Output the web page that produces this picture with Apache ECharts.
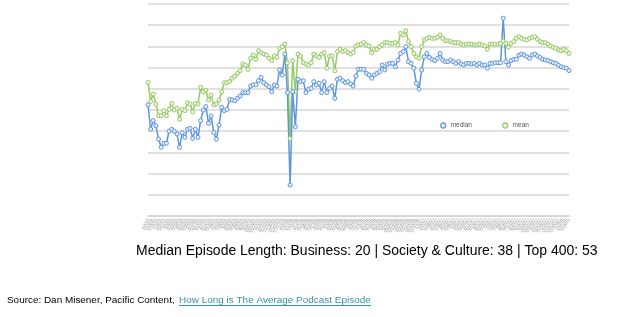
<!DOCTYPE html>
<html><head><meta charset="utf-8">
<script src="https://cdn.jsdelivr.net/npm/echarts@6/dist/echarts.min.js"></script>
<style>html,body{margin:0;padding:0;background:#fff}#c{width:636px;height:317px}</style>
</head><body><div id="c"></div>
<script>
// ---- data (y scale 0-100, gridline every 10) ----
const median = [
52.4, 41, 45, 42.6, 36.3, 32.4, 34.3, 34.3, 40, 40.9, 40, 38.7, 32.4, 39.3, 37.1, 40.9, 41.4, 36.6, 40.9, 37.1, 45, 50, 51.6, 43.7, 47.2, 39.3, 36.2,
42.9, 51.3, 49.7, 50.3, 55, 54.7, 54.4, 55.5, 56.6, 58.2, 58.2, 58.2, 61.3, 61.8, 61.9, 63.8, 65.4, 62.9, 61.8, 61, 58.6, 61.8, 61.3, 68.9, 66.5, 76.4, 58.2,
14.6, 58.6, 42.1, 64.5, 63.4, 63.8, 58.2, 59.8, 60.2, 63.4, 61.8, 62.6, 58.2, 63.4, 58.2, 60.2, 61.3, 55.5, 64.5, 65, 63.8, 62.9, 63.4, 62.3, 61.3, 66,
69.2, 69.2, 69.2, 67.3, 66.5, 65, 66.5, 67.3, 68, 71.2, 68.9, 71.7, 72, 72, 70.4, 73.6, 76.7, 77.6, 79.9, 72.8, 72, 69.7, 62.6, 59.8, 68.9, 75.1, 76.7,
74.8, 73.9, 73.3, 74.4, 76.7, 73.6, 72.8, 72.8, 73.6, 72.8, 72, 72.8, 71.7, 71.2, 72, 72, 71.7, 72, 71.2, 72, 71.2, 71.2, 69.7, 72, 72, 72.3, 72.3,
72.3, 93.3, 72.8, 71.2, 73.3, 73.9, 73.9, 75.9, 76.4, 75.9, 75.1, 74.4, 75.9, 76.4, 75.5, 74.8, 73.9, 73.6, 73.3, 72.8, 72.3, 72, 71.2, 70.4, 70, 69.7, 68.6
];
const mean = [
63, 54, 57.5, 52.8, 47.3, 47.3, 49.7, 47.3, 50.3, 53.1, 50, 50.8, 45.6, 50.3, 49.7, 53.4, 52.8, 49.2, 53.1, 52.8, 60.7, 58.6, 59.4, 54.7, 57, 52.4, 52.8,
54.7, 58.6, 62.9, 62.9, 63.4, 65, 66, 67.3, 68.5, 71.7, 71.2, 69.2, 74.4, 75.9, 73.9, 78, 77, 76.4, 75.9, 74.4, 73.3, 75.5, 74.8, 79.1, 79.9, 81.1, 72.3,
36.6, 73.3, 58.6, 76.4, 75.5, 72.3, 71.7, 71.2, 72.3, 76.4, 75.5, 74.8, 76.4, 77.1, 69.7, 75.5, 75.5, 68.5, 77.6, 78.6, 77.6, 78, 77.1, 76.4, 77.1, 80.2,
80.7, 81.1, 81.8, 80.7, 80.2, 77, 78.6, 78.6, 79.9, 80.7, 81.8, 81.8, 81.4, 81.4, 81.8, 80.7, 86.2, 85.4, 87.4, 82.3, 79.9, 76.7, 75.1, 74.4, 79.9, 83, 83.8,
84.3, 83.8, 83.8, 84.3, 85.4, 83.8, 82.7, 82.7, 82.3, 81.8, 81.8, 81.8, 81.1, 80.7, 81.1, 81.1, 81.1, 80.7, 80.7, 81.1, 80.7, 80.2, 78.6, 81.1, 81.1, 81.1, 81.1,
81.4, 82.5, 81.4, 79.6, 81.4, 82.3, 83.8, 84.6, 83.8, 83.4, 83, 83.8, 84.3, 84.6, 83.4, 82.3, 81.8, 81.8, 81.1, 80.2, 79.6, 79.1, 78.3, 78, 78.6, 78, 76.7
];
const seriesNames = ['median', 'mean'];
// x labels in the reference are illegible rotated tick labels (weekly dates)
const categories = [];
for (let i = 0; i < median.length; i++) {
  const t = new Date(2015, 0, 4 + i * 7);
  categories.push((t.getMonth() + 1) + '/' + t.getDate() + '/' + String(t.getFullYear()).slice(2));
}
const caption = 'Median Episode Length: Business: 20 | Society & Culture: 38 | Top 400: 53';
const sourceText = 'Source: Dan Misener, Pacific Content,';
const linkText = 'How Long is The Average Podcast Episode';

// ---- styling / layout ----
const FAMILY = 'Liberation Sans';
const BLUE = '#5f95dc', GREEN = '#97c965', LINK = '#3b8fa5';
function fitSize(text, targetW) {
  const ctx = document.createElement('canvas').getContext('2d');
  ctx.font = '10px "' + FAMILY + '"';
  return 10 * targetW / ctx.measureText(text).width;
}
const capSize = fitSize(caption, 462);
const srcSize = fitSize(sourceText, 168);
const linkSize = fitSize(linkText, 192);

const chart = echarts.init(document.getElementById('c'), null, {renderer: 'canvas'});
chart.setOption({
  animation: false,
  backgroundColor: '#fff',
  grid: {left: 148, right: 67, top: 4, bottom: 101, containLabel: false},
  legend: {
    left: 435, top: 117, itemWidth: 5, itemHeight: 5, itemGap: 30, icon: 'circle',
    textStyle: {fontSize: 6.5, color: '#555', fontFamily: FAMILY},
    data: [
      {name: seriesNames[0], itemStyle: {color: '#fff', borderColor: BLUE, borderWidth: 1.3}},
      {name: seriesNames[1], itemStyle: {color: '#fff', borderColor: GREEN, borderWidth: 1.3}}
    ]
  },
  xAxis: {
    type: 'category', data: categories, boundaryGap: false,
    axisLine: {lineStyle: {color: '#d2d2d2', width: 1.5}},
    axisTick: {show: false},
    axisLabel: {rotate: 60, fontSize: 4, color: '#999', interval: 0, margin: 3, fontFamily: FAMILY}
  },
  yAxis: {
    type: 'value', min: 0, max: 100, interval: 10,
    axisLabel: {show: false}, axisLine: {show: false}, axisTick: {show: false},
    splitLine: {lineStyle: {color: '#d6d6d6', width: 1.5}}
  },
  series: [
    {name: seriesNames[1], type: 'line', data: mean, symbol: 'circle', symbolSize: 4,
     lineStyle: {color: GREEN, width: 1.5}, itemStyle: {color: '#eef6e6', borderColor: GREEN, borderWidth: 1}},
    {name: seriesNames[0], type: 'line', data: median, symbol: 'circle', symbolSize: 4,
     lineStyle: {color: BLUE, width: 1.5}, itemStyle: {color: '#e8f0fb', borderColor: BLUE, borderWidth: 1}}
  ],
  graphic: [
    {type: 'text', x: 136, y: 251, style: {text: caption, font: capSize.toFixed(2) + 'px "' + FAMILY + '"', fill: '#000', align: 'left', verticalAlign: 'middle'}},
    {type: 'text', x: 7, y: 300, style: {text: sourceText, font: srcSize.toFixed(2) + 'px "' + FAMILY + '"', fill: '#000', align: 'left', verticalAlign: 'middle'}},
    {type: 'text', x: 179, y: 300, style: {text: linkText, font: linkSize.toFixed(2) + 'px "' + FAMILY + '"', fill: LINK, align: 'left', verticalAlign: 'middle'}},
    {type: 'line', shape: {x1: 179, y1: 305.5, x2: 371, y2: 305.5}, style: {stroke: LINK, lineWidth: 1}}
  ]
});
</script></body></html>
